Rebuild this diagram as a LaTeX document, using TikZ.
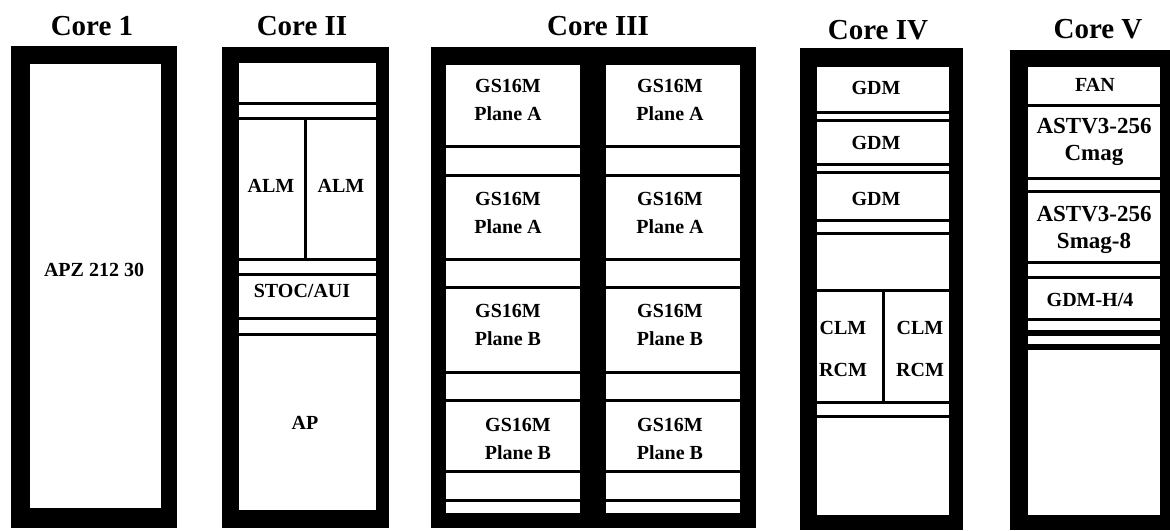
\documentclass[tikz,border=0pt]{standalone}
\usepackage{fontspec}
\setmainfont{Liberation Serif}
\begin{document}
\begin{tikzpicture}[x=0.5pt,y=-0.5pt,
  title/.style={anchor=base,inner sep=0pt,font=\bfseries\fontsize{14.5}{16}\selectfont},
  lbl/.style={inner sep=0pt,align=center,font=\bfseries\fontsize{10}{14}\selectfont},
  lblbig/.style={inner sep=0pt,align=center,font=\bfseries\fontsize{11.5}{13.5}\selectfont},
  sep/.style={line width=1.5pt},
  thicksep/.style={line width=3pt},
  frame/.style={fill=black},
  slot/.style={fill=white}]
\useasboundingbox (0,0) rectangle (1170,530);
% ---------- titles
\node[title] (t1) at (92,35) {Core 1};
\node[title] (t2) at (302,35) {Core II};
\node[title] (t3) at (598,35) {Core III};
\node[title] (t4) at (878,39) {Core IV};
\node[title] (t5) at (1098,38) {Core V};
% ---------- Core 1
\fill[frame] (11,46) rectangle (177,528);
\fill[slot] (30,64) rectangle (161,508);
\node[lbl] (apz) at (94,270) {APZ 212 30};
% ---------- Core II
\fill[frame] (222,47) rectangle (389,528);
\fill[slot] (239,63) rectangle (376,510);
\foreach \y in {103,118,259,274,318,334} \draw[sep] (239,\y) -- (376,\y);
\draw[sep] (305,118) -- (305,259);
\node[lbl] (alm1) at (271,186) {ALM};
\node[lbl] (alm2) at (341,186) {ALM};
\node[lbl] (stoc) at (302,291) {STOC/AUI};
\node[lbl] (ap) at (305,423) {AP};
% ---------- Core III
\fill[frame] (431,47) rectangle (756,528);
\fill[slot] (446,65) rectangle (580,513);
\fill[slot] (606,65) rectangle (740,513);
\foreach \y in {146,175,259,287,372,400,471,500} {
  \draw[sep] (446,\y) -- (580,\y);
  \draw[sep] (606,\y) -- (740,\y);
}
\node[lbl] (gsa1) at (508,100) {GS16M\\Plane A};
\node[lbl] (gsa2) at (508,213) {GS16M\\Plane A};
\node[lbl] (gsb1) at (508,325) {GS16M\\Plane B};
\node[lbl] (gsb2) at (518,439) {GS16M\\Plane B};
\node[lbl] (gsa3) at (670,100) {GS16M\\Plane A};
\node[lbl] (gsa4) at (670,213) {GS16M\\Plane A};
\node[lbl] (gsb3) at (670,325) {GS16M\\Plane B};
\node[lbl] (gsb4) at (670,439) {GS16M\\Plane B};
% ---------- Core IV
\fill[frame] (800,48) rectangle (963,530);
\fill[slot] (817,67) rectangle (949,515);
\foreach \y in {112,120,164,172,220,233,290,402,416} \draw[sep] (817,\y) -- (949,\y);
\draw[sep] (883,290) -- (883,402);
\node[lbl] (gdm1) at (876,88) {GDM};
\node[lbl] (gdm2) at (876,143) {GDM};
\node[lbl] (gdm3) at (876,199) {GDM};
\node[lbl] (clm1) at (843,328) {CLM};
\node[lbl] (rcm1) at (843,370) {RCM};
\node[lbl] (clm2) at (920,328) {CLM};
\node[lbl] (rcm2) at (920,370) {RCM};
% ---------- Core V
\fill[frame] (1010,50) rectangle (1170,530);
\fill[slot] (1028,67) rectangle (1160,515);
\foreach \y in {105,178,191,262,277,319} \draw[sep] (1028,\y) -- (1160,\y);
\foreach \y in {333,347} \draw[thicksep] (1028,\y) -- (1160,\y);
\node[lbl] (fan) at (1095,85) {FAN};
\node[lblbig] (astv1) at (1094,142) {ASTV3-256\\Cmag};
\node[lblbig] (astv2) at (1094,230) {ASTV3-256\\Smag-8};
\node[lbl] (gdmh) at (1090,300) {GDM-H/4};
\end{tikzpicture}
\end{document}
